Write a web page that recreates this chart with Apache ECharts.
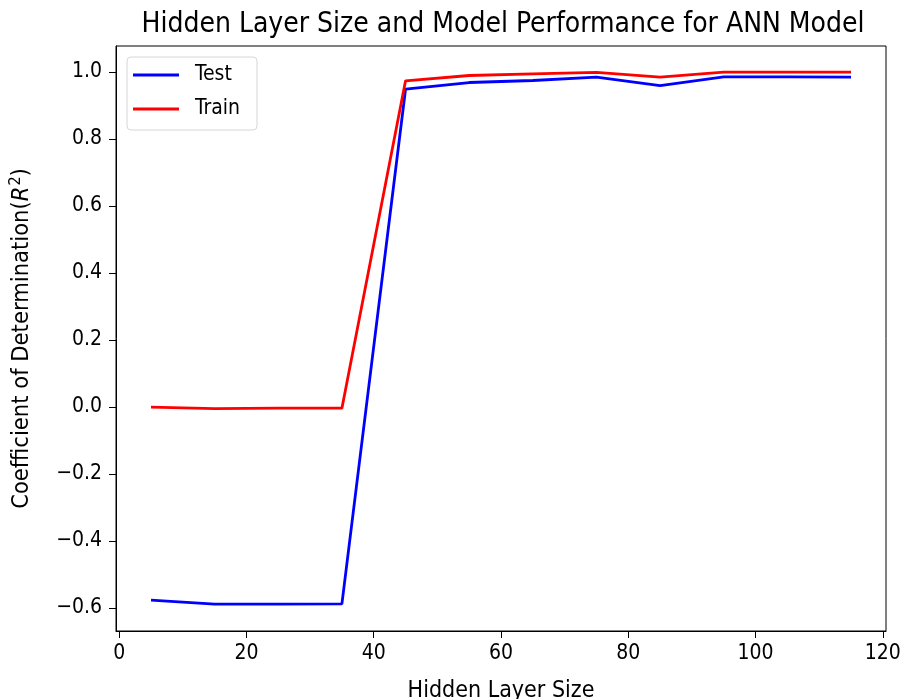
<!DOCTYPE html>
<html>
<head>
<meta charset="utf-8">
<script src="https://cdn.jsdelivr.net/npm/echarts@6/dist/echarts.min.js"></script>
<style>
  html, body { margin: 0; padding: 0; background: #fff; }
  #chart { width: 900px; height: 699px; }
</style>
</head>
<body>
<div id="chart"></div>
<script>
// hidden layer sizes and R^2 scores
const sizes = [5, 15, 25, 35, 45, 55, 65, 75, 85, 95, 105, 115]
const testScores = [-0.577, -0.589, -0.589, -0.588, 0.948, 0.968, 0.974, 0.984, 0.959, 0.985, 0.985, 0.984]
const trainScores = [-0.001, -0.005, -0.004, -0.004, 0.973, 0.989, 0.994, 0.998, 0.984, 0.999, 0.999, 0.999]
const xTicks = [0, 20, 40, 60, 80, 100, 120]
const yTicks = [-0.6, -0.4, -0.2, 0.0, 0.2, 0.4, 0.6, 0.8, 1.0]

const font = "'DejaVu Sans Condensed', 'DejaVu Sans'"

function pairs (xs, ys) {
  return xs.map((x, i) => [x, ys[i]])
}

const chart = echarts.init(document.getElementById('chart'))

const option = {
  animation: false,
  title: {
    text: 'Hidden Layer Size and Model Performance for ANN Model',
    left: 498,
    textAlign: 'center',
    top: 6,
    textStyle: { fontFamily: font, fontSize: 28, fontWeight: 'normal', color: '#000' }
  },
  grid: {
    left: 116,
    right: 14,
    top: 46,
    bottom: 68,
    outerBoundsMode: 'none',
    show: true,
    borderColor: '#000',
    borderWidth: 1,
    backgroundColor: 'transparent'
  },
  legend: {
    left: 127,
    top: 57,
    orient: 'vertical',
    icon: 'rect',
    itemWidth: 46,
    itemHeight: 3,
    itemGap: 12,
    padding: [7, 17, 10, 6],
    borderColor: '#d6d6d6',
    borderWidth: 1,
    borderRadius: 4,
    backgroundColor: 'rgba(255,255,255,0.8)',
    textStyle: { fontFamily: font, fontSize: 21, color: '#000', lineHeight: 22, padding: [0, 0, 0, 11] },
    data: ['Test', 'Train']
  },
  xAxis: {
    type: 'value',
    min: -0.5,
    max: 120.5,
    name: 'Hidden Layer Size',
    nameLocation: 'middle',
    nameGap: 49,
    nameTextStyle: { fontFamily: font, fontSize: 23, color: '#000' },
    axisLine: { show: true, onZero: false, lineStyle: { color: '#000', width: 1 } },
    axisTick: { show: true, length: 7, lineStyle: { color: '#000' }, customValues: xTicks },
    axisLabel: {
      fontFamily: font, fontSize: 21, color: '#000', margin: 12,
      customValues: xTicks,
      formatter: v => String(v)
    },
    splitLine: { show: false }
  },
  yAxis: {
    type: 'value',
    min: -0.669,
    max: 1.077,
    name: 'Coefficient of Determination({i|R}{s|2})',
    nameLocation: 'middle',
    nameGap: 80,
    nameRotate: 90,
    nameTextStyle: {
      fontFamily: font, fontSize: 23.5, color: '#000',
      rich: {
        i: { fontFamily: font, fontSize: 23.5, fontStyle: 'italic', color: '#000' },
        s: { fontFamily: font, fontSize: 16, color: '#000', verticalAlign: 'top', padding: [0, 0, 12, 1] }
      }
    },
    axisLine: { show: true, onZero: false, lineStyle: { color: '#000', width: 1 } },
    axisTick: { show: true, length: 7, lineStyle: { color: '#000' }, customValues: yTicks },
    axisLabel: {
      fontFamily: font, fontSize: 21, color: '#000', margin: 14,
      customValues: yTicks,
      formatter: v => v.toFixed(1).replace('-', '\u2212')
    },
    splitLine: { show: false }
  },
  series: [
    {
      name: 'Test',
      type: 'line',
      data: pairs(sizes, testScores),
      showSymbol: false,
      color: '#0000ff',
      lineStyle: { width: 2.8, color: '#0000ff' }
    },
    {
      name: 'Train',
      type: 'line',
      data: pairs(sizes, trainScores),
      showSymbol: false,
      color: '#ff0000',
      lineStyle: { width: 2.8, color: '#ff0000' }
    }
  ]
}

chart.setOption(option)
</script>
</body>
</html>
